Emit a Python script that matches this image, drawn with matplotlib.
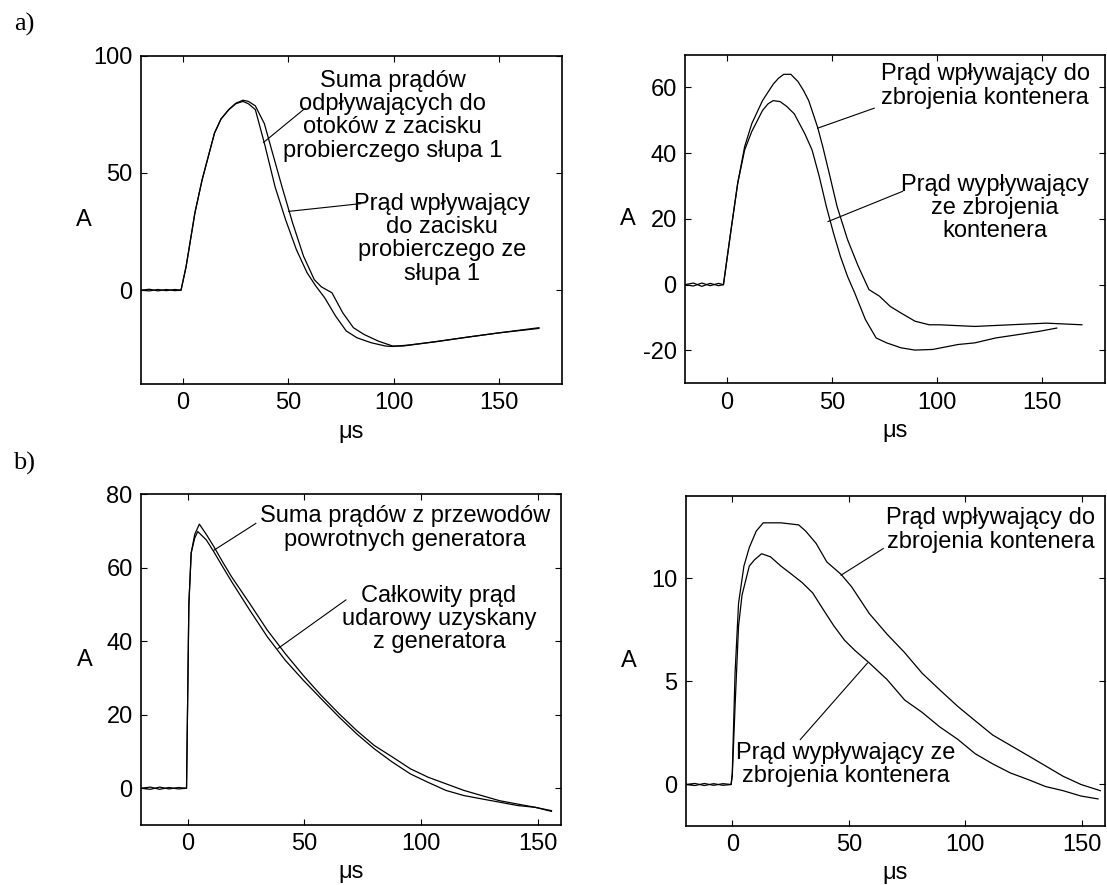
import matplotlib
matplotlib.use("Agg")
import matplotlib.pyplot as plt

plt.rcParams['font.family'] = ['Liberation Sans', 'DejaVu Sans']
plt.rcParams['axes.unicode_minus'] = False

# ---------------- data ----------------
# a) left panel
a1_in_t = [-20, -16, -12, -8, -4, -1, 1.4, 5.6, 9, 14.9, 18, 21.7, 25, 28.4, 31, 34.3, 38.6, 42, 47, 52, 57.2,
           62.3, 65.7, 70.7, 75.8, 80.9, 86, 92.7, 99.5, 104.6, 116, 133, 150, 169]
a1_in_v = [0, 0.4, -0.3, 0.3, -0.2, 0, 10, 33, 47, 67, 73, 77, 79.7, 81, 80.5, 78.6, 71, 60, 44, 28.7, 14.5,
           4.5, 1.4, -1.1, -9.6, -16, -18.9, -21.7, -23.8, -23.8, -22.4, -20.3, -18.2, -16]
a1_sum_t = [-20, -16, -12, -8, -4, -1, 1.4, 5.6, 9, 14.9, 18, 21.7, 25, 28.4, 31, 34.3, 38.6, 43.7, 48.7, 53.8,
            58.9, 63.1, 67.3, 72.4, 77.5, 82.6, 89.3, 96.1, 99.5, 108, 120, 135, 150, 169]
a1_sum_v = [0, -0.3, 0.3, -0.2, 0.3, 0, 10, 33, 47, 67, 73, 77, 79.5, 80.5, 79.5, 77, 62.7, 44, 30, 17.3,
            7.4, 1.7, -3.3, -11, -17.4, -20.3, -22.4, -23.8, -24, -23.3, -22, -20, -18.2, -16.3]

# a) right panel
a2_in_t = [-20, -16, -12, -8, -4, -1.7, 1.7, 5.1, 8.4, 11.8, 16.9, 22, 24.5, 27, 30.4, 33.8, 36.5, 38.9, 43.1,
           45.6, 49, 52.4, 57.4, 62.5, 67.6, 72.6, 77.7, 82.8, 89.5, 96.3, 101, 118, 135, 152, 169]
a2_in_v = [0, 0.5, -0.5, 0.4, -0.3, 0, 15.7, 30.9, 42, 49, 56, 61, 62.8, 64, 64, 61.8, 59, 56, 48,
           42, 33, 23.8, 13.7, 5.6, -1.5, -3.5, -6.6, -8.6, -11.1, -12.2, -12.2, -12.7, -12.2, -11.7, -12.2]
a2_out_t = [-20, -16, -12, -8, -4, -1.7, 1.7, 5.1, 8.4, 11.8, 16.9, 19.5, 22, 25.3, 28.5, 32, 37, 40.5, 43.9,
            47.3, 50.7, 54, 57.4, 60.8, 65.9, 71, 76, 82.8, 89.5, 98, 110, 118, 128, 138.5, 148.6, 157]
a2_out_v = [0, -0.4, 0.5, -0.3, 0.4, 0, 15.7, 30.9, 41, 46.6, 53, 55, 56, 55.7, 54.2, 52, 46, 41, 33,
            23.8, 15.7, 8.6, 2.5, -2.5, -10.6, -16.2, -17.7, -19.2, -19.9, -19.7, -18.2, -17.7, -16.2, -15.2, -14.2, -13.2]

# b) left panel
b1_sum_t = [-20, -16, -12, -8, -4, -0.5, 0.5, 1.5, 3, 5, 8, 11.2, 15, 18.8, 26.5, 34.1, 41.8, 49.5, 57.1, 64.8,
            72.4, 80, 87.7, 95.4, 103, 110.7, 118.4, 126, 133.7, 141.3, 149, 155.9]
b1_sum_v = [0, 0.3, -0.3, 0.2, -0.2, 0, 50, 64, 69, 71.8, 69, 65.7, 61.5, 57.5, 50.3, 43, 36.6, 30.7, 25.3, 20.3,
            15.7, 11.6, 8.5, 5.3, 3, 1.2, -0.6, -2, -3.4, -4.3, -5.2, -6.3]
b1_tot_t = [-20, -16, -12, -8, -4, -0.5, 0.5, 1.5, 3, 4.3, 8, 11.2, 15, 18.8, 26.5, 34.1, 41.8, 49.5, 57.1, 64.8,
            72.4, 80, 87.7, 95.4, 103, 110.7, 118.4, 126, 133.7, 141.3, 149, 155.9]
b1_tot_v = [0, -0.3, 0.3, -0.2, 0.2, 0, 50, 64, 68, 69.8, 67.5, 64.3, 60.2, 56.2, 48.5, 41.2, 34.8, 29.4, 24.4, 19.4,
            14.8, 10.7, 7.1, 3.9, 1.6, -0.6, -2, -2.9, -3.8, -4.7, -5.2, -6.1]

# b) right panel
b2_in_t = [-20, -16, -12, -8, -4, -0.5, 0, 1.2, 2.7, 5, 7.3, 10.3, 13.3, 20.9, 28.5, 31.5, 36, 40.6,
           46.7, 51.2, 58.8, 66.4, 74, 81.5, 89, 96.7, 104.2, 111.8, 119.4, 127, 134.5, 142, 149.7, 158]
b2_in_v = [0, 0.05, -0.05, 0.04, -0.04, 0, 0.56, 5.4, 8.8, 10.6, 11.5, 12.3, 12.7, 12.7, 12.6, 12.3, 11.7, 10.8,
           10.2, 9.6, 8.3, 7.3, 6.4, 5.4, 4.6, 3.8, 3.1, 2.4, 1.9, 1.4, 0.9, 0.4, 0, -0.3]
b2_out_t = [-20, -16, -12, -8, -4, -0.5, 0, 1.2, 2.7, 4.2, 7.3, 9.5, 12.6, 16.4, 20.9, 25.5, 30, 34.5,
            39, 43.6, 48.2, 52.7, 58.8, 66.4, 74, 81.5, 89, 96.7, 104.2, 111.8, 119.4, 127, 134.5, 142, 149.7, 157]
b2_out_v = [0, -0.05, 0.05, -0.04, 0.04, 0, 0.4, 3.8, 7.7, 9.2, 10.6, 10.9, 11.2, 11.05, 10.6, 10.2, 9.8, 9.3,
            8.5, 7.7, 7.0, 6.5, 5.9, 5.1, 4.1, 3.5, 2.8, 2.2, 1.5, 1.0, 0.56, 0.24, -0.1, -0.3, -0.56, -0.7]

x_ticks = [0, 50, 100, 150]
ticks_a1 = [0, 50, 100]
ticks_a2 = [-20, 0, 20, 40, 60]
ticks_b1 = [0, 20, 40, 60, 80]
ticks_b2 = [0, 5, 10]

# ---------------- figure ----------------
W, H = 1107, 885
fig = plt.figure(figsize=(W / 100, H / 100), dpi=100)

FS = 17
LW = 0.9


def make_ax(rect, xlim, ylim, yticks):
    ax = fig.add_axes(rect)
    ax.set_xlim(*xlim)
    ax.set_ylim(*ylim)
    ax.set_xticks(x_ticks)
    ax.set_yticks(yticks)
    ax.tick_params(direction='in', length=4, width=0.8, top=True, right=True,
                   labelsize=FS, pad=6)
    for s in ax.spines.values():
        s.set_linewidth(1.2)
    ax.set_xlabel('\u03bcs', fontsize=FS)
    ax.set_ylabel('A', fontsize=FS, rotation=0)
    ax.xaxis.label.set_va('center')
    ax.yaxis.label.set_va('center')
    ax.yaxis.label.set_ha('center')
    return ax


def note(ax, text, xy_text, xy_from, xy_to):
    ax.text(xy_text[0], xy_text[1], text, fontsize=FS, ha='center', va='center',
            linespacing=1.08)
    ax.plot([xy_from[0], xy_to[0]], [xy_from[1], xy_to[1]], color='black', lw=0.8)


# a) left
ax1 = make_ax([0.1274, 0.5661, 0.3803, 0.3710], (-20, 180), (-40, 100), ticks_a1)
ax1.plot(a1_in_t, a1_in_v, color='black', lw=LW)
ax1.plot(a1_sum_t, a1_sum_v, color='black', lw=LW)
ax1.xaxis.set_label_coords(0.5, -0.146)
ax1.yaxis.set_label_coords(-0.135, 0.5)
note(ax1, 'Suma prądów\nodpływających do\notoków z zacisku\nprobierczego słupa 1',
     (99.5, 74.4), (58, 77.6), (38.2, 63))
note(ax1, 'Prąd wpływający\ndo zacisku\nprobierczego ze\nsłupa 1',
     (123, 22), (84.3, 36.9), (50.1, 33.6))

# a) right
ax2 = make_ax([0.6188, 0.5669, 0.3794, 0.3714], (-20, 180), (-30, 70), ticks_a2)
ax2.plot(a2_in_t, a2_in_v, color='black', lw=LW)
ax2.plot(a2_out_t, a2_out_v, color='black', lw=LW)
ax2.xaxis.set_label_coords(0.5, -0.146)
ax2.yaxis.set_label_coords(-0.135, 0.5)
note(ax2, 'Prąd wpływający do\nzbrojenia kontenera', (123, 60.5), (70.1, 53.7), (43.1, 47.6))
note(ax2, 'Prąd wypływający\nze zbrojenia\nkontenera', (127.5, 23.3), (83.6, 28.4), (48.1, 19.2))

# b) left
ax3 = make_ax([0.1274, 0.0678, 0.3794, 0.3740], (-20, 160), (-10, 80), ticks_b1)
ax3.plot(b1_sum_t, b1_sum_v, color='black', lw=LW)
ax3.plot(b1_tot_t, b1_tot_v, color='black', lw=LW)
ax3.xaxis.set_label_coords(0.5, -0.142)
ax3.yaxis.set_label_coords(-0.133, 0.5)
note(ax3, 'Suma prądów z przewodów\npowrotnych generatora', (93, 70.8), (29.2, 72), (11.2, 64.7))
note(ax3, 'Całkowity prąd\nudarowy uzyskany\nz generatora', (107.7, 46), (67.8, 51.2), (38.7, 38))

# b) right
ax4 = make_ax([0.6194, 0.0670, 0.3788, 0.3725], (-20, 160), (-2, 14), ticks_b2)
ax4.plot(b2_in_t, b2_in_v, color='black', lw=LW)
ax4.plot(b2_out_t, b2_out_v, color='black', lw=LW)
ax4.xaxis.set_label_coords(0.5, -0.142)
ax4.yaxis.set_label_coords(-0.135, 0.5)
note(ax4, 'Prąd wpływający do\nzbrojenia kontenera', (111, 12.35), (64.8, 11.45), (46.7, 10.16))
note(ax4, 'Prąd wypływający ze\nzbrojenia kontenera', (48.9, 0.96), (29.2, 2.18), (58, 5.89))

fig.text(24 / W, 1 - 24 / H, 'a)', fontsize=19, family=['Liberation Serif', 'DejaVu Serif'],
         ha='center', va='center')
fig.text(24 / W, 1 - 463 / H, 'b)', fontsize=19, family=['Liberation Serif', 'DejaVu Serif'],
         ha='center', va='center')

fig.savefig('out.png', dpi=100)
